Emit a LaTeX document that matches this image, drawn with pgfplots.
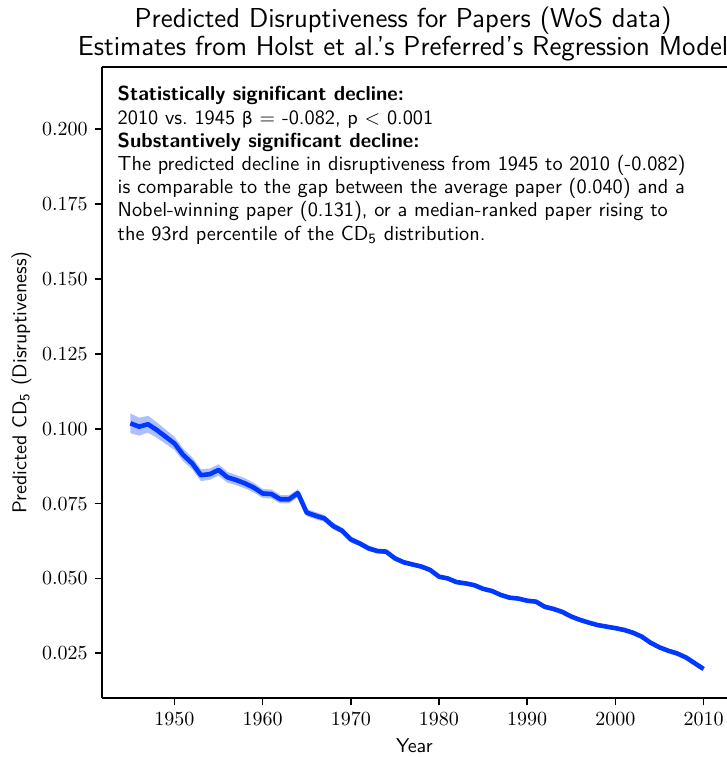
\documentclass[border=0pt]{standalone}
\usepackage{fontspec}
\usepackage{pgfplots}
\pgfplotsset{compat=1.18}
\usepackage{pgfplotstable}
\usepgfplotslibrary{fillbetween}
\newfontfamily\grk{DejaVu Sans}[Scale=0.85]
\definecolor{cdblue}{RGB}{0,56,255}

% year, predicted CD5, half-width of the confidence band
\pgfplotstableread{
year y e
1945 0.10180 0.0033
1946 0.10068 0.0030
1947 0.10149 0.0028
1948 0.09956 0.0026
1949 0.09732 0.0024
1950 0.09508 0.0022
1951 0.09121 0.0021
1952 0.08846 0.0020
1953 0.08449 0.0020
1954 0.08480 0.0019
1955 0.08622 0.0019
1956 0.08378 0.0018
1957 0.08286 0.0017
1958 0.08174 0.0017
1959 0.08032 0.0016
1960 0.07838 0.0015
1961 0.07818 0.0015
1962 0.07645 0.0014
1963 0.07645 0.0014
1964 0.07849 0.0013
1965 0.07197 0.0012
1966 0.07095 0.0012
1967 0.07004 0.0011
1968 0.06749 0.0011
1969 0.06596 0.0010
1970 0.06301 0.0010
1971 0.06169 0.0009
1972 0.06006 0.0009
1973 0.05915 0.0008
1974 0.05894 0.0008
1975 0.05670 0.0008
1976 0.05538 0.0007
1977 0.05466 0.0007
1978 0.05395 0.0007
1979 0.05283 0.0006
1980 0.05059 0.0006
1981 0.04998 0.0006
1982 0.04876 0.0006
1983 0.04835 0.0005
1984 0.04774 0.0005
1985 0.04652 0.0005
1986 0.04581 0.0005
1987 0.04448 0.0005
1988 0.04357 0.0005
1989 0.04326 0.0005
1990 0.04255 0.0005
1991 0.04224 0.0005
1992 0.04051 0.0005
1993 0.03980 0.0005
1994 0.03878 0.0005
1995 0.03726 0.0005
1996 0.03614 0.0005
1997 0.03522 0.0005
1998 0.03441 0.0005
1999 0.03390 0.0005
2000 0.03339 0.0005
2001 0.03278 0.0005
2002 0.03186 0.0005
2003 0.03054 0.0005
2004 0.02850 0.0005
2005 0.02697 0.0005
2006 0.02585 0.0005
2007 0.02494 0.0005
2008 0.02361 0.0005
2009 0.02168 0.0005
2010 0.01975 0.0005
}\cddata

\begin{document}
\begin{tikzpicture}
\begin{axis}[
    name=ax,
    scale only axis,
    width=312.65pt, height=315.65pt,
    xmin=1941.75, xmax=2012.66,
    ymin=0.00996, ymax=0.22081,
    clip=false,
    axis x line=bottom, axis y line=left,
    axis line style={-, line width=0.8pt},
    every outer x axis line/.append style={-},
    every outer y axis line/.append style={-},
    xtick={1950,1960,1970,1980,1990,2000,2010},
    ytick={0.025,0.050,0.075,0.100,0.125,0.150,0.175,0.200},
    scaled y ticks=false,
    tick align=outside,
    major tick length=3.5pt,
    every tick/.style={black, line width=0.8pt},
    tick label style={font=\fontsize{10}{12}\selectfont},
    xticklabel style={/pgf/number format/1000 sep={}},
    yticklabel style={/pgf/number format/.cd, fixed, fixed zerofill, precision=3},
    xlabel near ticks, ylabel near ticks,
    xlabel={Year},
    ylabel={Predicted CD\textsubscript{5} (Disruptiveness)},
    ylabel shift=-1.5pt,
    label style={font=\sffamily\fontsize{10}{12}\selectfont},
    title={Predicted Disruptiveness for Papers (WoS data)\\Estimates from Holst et al.'s Preferred's Regression Model},
    every axis title/.style={at={(0.482,1)}, anchor=south, inner sep=0pt, yshift=2.7pt,
        align=center, font=\sffamily\fontsize{13.7}{14}\selectfont},
]
\addplot[draw=none, name path=up, forget plot] table[x=year, y expr=\thisrow{y}+\thisrow{e}] {\cddata};
\addplot[draw=none, name path=lo, forget plot] table[x=year, y expr=\thisrow{y}-\thisrow{e}] {\cddata};
\addplot[fill=cdblue, fill opacity=0.32, draw=none] fill between[of=up and lo];
\addplot[cdblue, line width=2.3pt, line join=round] table[x=year, y=y] {\cddata};
\draw[line width=0.8pt] (rel axis cs:0,1) -- (rel axis cs:1,1);
\node[anchor=north west, align=left, inner sep=0pt, xshift=7.8pt, yshift=-9.5pt,
      font=\sffamily\fontsize{10.15}{11.6}\selectfont] at (rel axis cs:0,1)
  {\textbf{Statistically significant decline:}\\
   2010 vs.\ 1945 {\grk β} $=$ -0.082, p $<$ 0.001\\
   \textbf{Substantively significant decline:}\\
   The predicted decline in disruptiveness from 1945 to 2010 (-0.082)\\
   is comparable to the gap between the average paper (0.040) and a\\
   Nobel-winning paper (0.131), or a median-ranked paper rising to\\
   the 93rd percentile of the CD\textsubscript{5} distribution.};
\end{axis}
\pgfresetboundingbox
\path[use as bounding box] ([xshift=-50.85pt,yshift=33.5pt]ax.north west) rectangle ([yshift=-29.35pt]ax.south east);
\end{tikzpicture}
\end{document}
